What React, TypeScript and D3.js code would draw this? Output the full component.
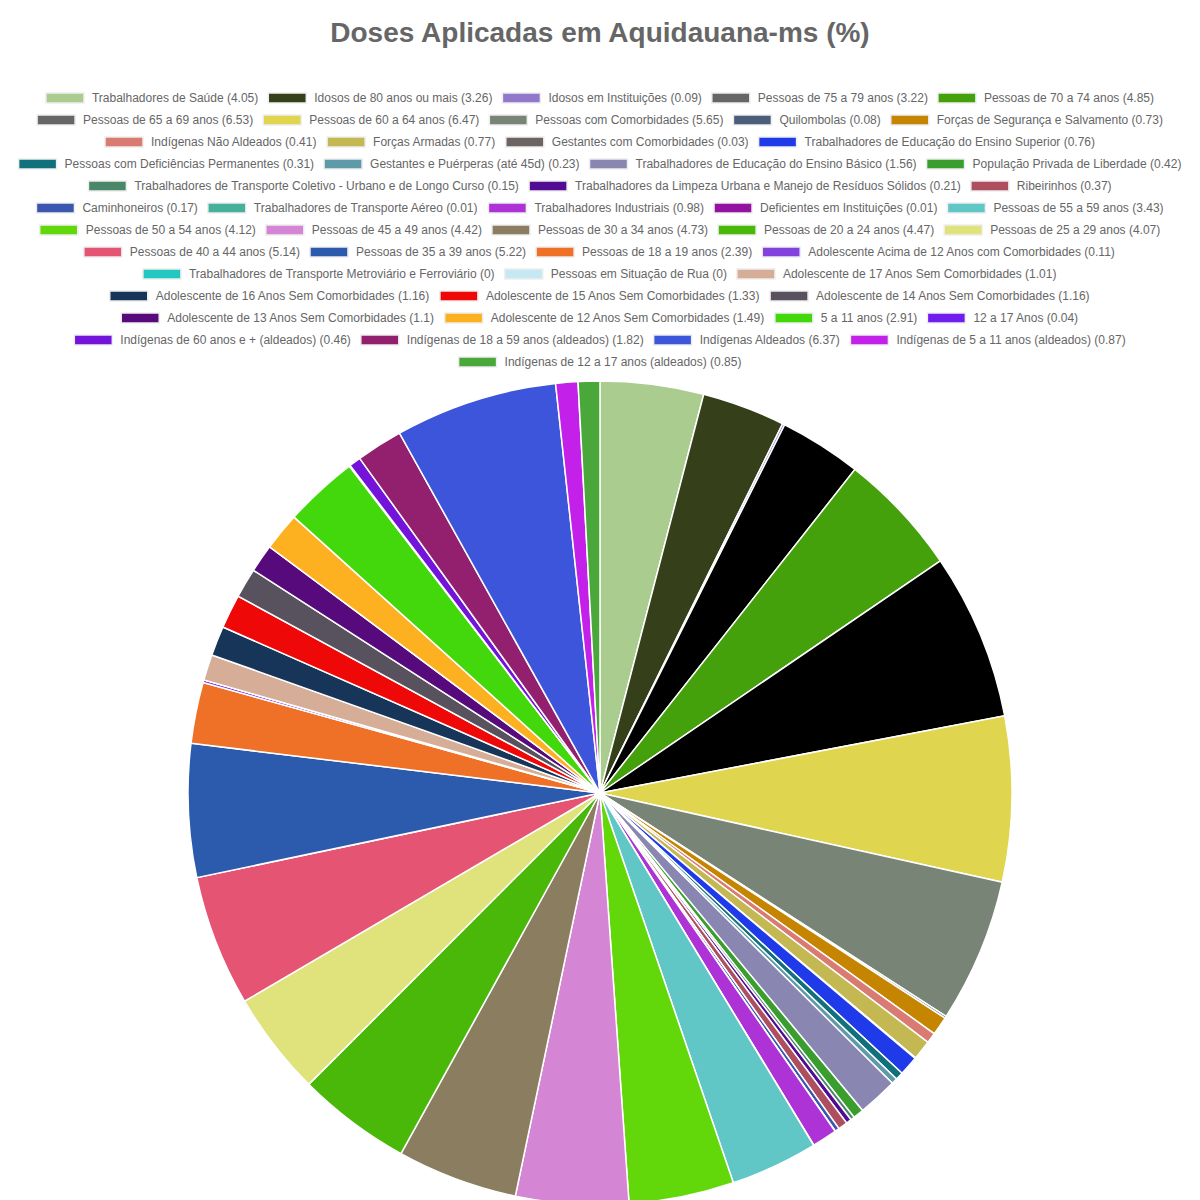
import React, { useMemo } from 'react';
import * as d3 from 'd3';

const labels = [
  'Trabalhadores de Saúde', 'Idosos de 80 anos ou mais', 'Idosos em Instituições', 'Pessoas de 75 a 79 anos',
  'Pessoas de 70 a 74 anos', 'Pessoas de 65 a 69 anos', 'Pessoas de 60 a 64 anos', 'Pessoas com Comorbidades',
  'Quilombolas', 'Forças de Segurança e Salvamento', 'Indígenas Não Aldeados', 'Forças Armadas',
  'Gestantes com Comorbidades', 'Trabalhadores de Educação do Ensino Superior', 'Pessoas com Deficiências Permanentes',
  'Gestantes e Puérperas (até 45d)', 'Trabalhadores de Educação do Ensino Básico', 'População Privada de Liberdade',
  'Trabalhadores de Transporte Coletivo - Urbano e de Longo Curso', 'Trabalhadores da Limpeza Urbana e Manejo de Resíduos Sólidos',
  'Ribeirinhos', 'Caminhoneiros', 'Trabalhadores de Transporte Aéreo', 'Trabalhadores Industriais',
  'Deficientes em Instituições', 'Pessoas de 55 a 59 anos', 'Pessoas de 50 a 54 anos', 'Pessoas de 45 a 49 anos',
  'Pessoas de 30 a 34 anos', 'Pessoas de 20 a 24 anos', 'Pessoas de 25 a 29 anos', 'Pessoas de 40 a 44 anos',
  'Pessoas de 35 a 39 anos', 'Pessoas de 18 a 19 anos', 'Adolescente Acima de 12 Anos com Comorbidades',
  'Trabalhadores de Transporte Metroviário e Ferroviário', 'Pessoas em Situação de Rua',
  'Adolescente de 17 Anos Sem Comorbidades', 'Adolescente de 16 Anos Sem Comorbidades', 'Adolescente de 15 Anos Sem Comorbidades',
  'Adolescente de 14 Anos Sem Comorbidades', 'Adolescente de 13 Anos Sem Comorbidades', 'Adolescente de 12 Anos Sem Comorbidades',
  '5 a 11 anos', '12 a 17 Anos', 'Indígenas de 60 anos e + (aldeados)', 'Indígenas de 18 a 59 anos (aldeados)',
  'Indígenas Aldeados', 'Indígenas de 5 a 11 anos (aldeados)', 'Indígenas de 12 a 17 anos (aldeados)',
];
const values = [
  4.05, 3.26, 0.09, 3.22, 4.85, 6.53, 6.47, 5.65, 0.08, 0.73, 0.41, 0.77, 0.03, 0.76, 0.31, 0.23, 1.56, 0.42, 0.15, 0.21,
  0.37, 0.17, 0.01, 0.98, 0.01, 3.43, 4.12, 4.42, 4.73, 4.47, 4.07, 5.14, 5.22, 2.39, 0.11, 0, 0, 1.01, 1.16, 1.33,
  1.16, 1.1, 1.49, 2.91, 0.04, 0.46, 1.82, 6.37, 0.87, 0.85,
];
const legendColors = [
  '#aacc8f', '#35401a', '#9178cc', '#666666', '#44a00b', '#666666', '#e0d54e', '#788476', '#4a5e78', '#c58500',
  '#d97b72', '#c4b852', '#6b6460', '#1f3ae8', '#10707c', '#5f9aa8', '#8987b2', '#3a9e2e', '#4a8668', '#520c93',
  '#ad4f5e', '#3c55ae', '#47b09a', '#ae33d6', '#9312a0', '#60c6c6', '#62d70a', '#d486d5', '#8a7d60', '#49b809',
  '#e0e27c', '#e65474', '#2c5aac', '#ef7127', '#8341dd', '#22c7c2', '#c6e8f2', '#d6ae98', '#173558', '#ef0808',
  '#58525f', '#560a7c', '#fdb020', '#43d80b', '#701df0', '#7413d9', '#93206e', '#3d55db', '#c321e9', '#4aa83a',
];
// in the pie the two grey age groups are drawn black
const sliceColors = legendColors.map((c, i) => (i === 3 || i === 5 ? '#000000' : c));

const W = 1184;
const fontSize = 12;
const font = `${fontSize}px "Liberation Sans", Arial, sans-serif`;

export default function App() {
  const rows = useMemo(() => {
    const ctx = document.createElement('canvas').getContext('2d')!;
    ctx.font = font;
    const items = labels.map((l, i) => {
      const text = `${l} (${values[i]})`;
      return { i, text, w: 40 + fontSize / 2 + ctx.measureText(text).width };
    });
    const out: { items: typeof items; width: number }[] = [];
    let cur: typeof items = [];
    let cw = 0;
    items.forEach(it => {
      if (cur.length && cw + it.w + 10 > W - 10) {
        out.push({ items: cur, width: cw });
        cur = [];
        cw = 0;
      }
      cur.push(it);
      cw += it.w + 10;
    });
    out.push({ items: cur, width: cw });
    return out;
  }, []);

  const cx = 592, cy = 785, r = 412;
  const arcs = d3.pie<number>().sort(null).value(d => d)(values);
  const arc = d3.arc<d3.PieArcDatum<number>>().innerRadius(0).outerRadius(r);

  return (
    <svg width={W} height={1200} style={{ display: 'block' }}>
      <text x={cx} y={34} textAnchor="middle" fontFamily='"Liberation Sans", Arial, sans-serif'
        fontWeight="bold" fontSize={28} fill="#666">Doses Aplicadas em Aquidauana-ms (%)</text>
      {rows.map((row, ri) => {
        let x = (W - row.width) / 2 + 5;
        const y = 90 + ri * 22;
        return row.items.map(it => {
          const g = (
            <g key={it.i}>
              <rect x={x} y={y - 5} width={38} height={10} fill={legendColors[it.i]} stroke="#eee" strokeWidth={1.5} />
              <text x={x + 46} y={y + 4} fontFamily='"Liberation Sans", Arial, sans-serif' fontSize={fontSize} fill="#666">{it.text}</text>
            </g>
          );
          x += it.w + 10;
          return g;
        });
      })}
      <g transform={`translate(${cx},${cy})`}>
        {arcs.map((a, i) => (
          <path key={i} d={arc(a) || ''} fill={sliceColors[i]} stroke="#fff" strokeWidth={1.5} />
        ))}
      </g>
    </svg>
  );
}
